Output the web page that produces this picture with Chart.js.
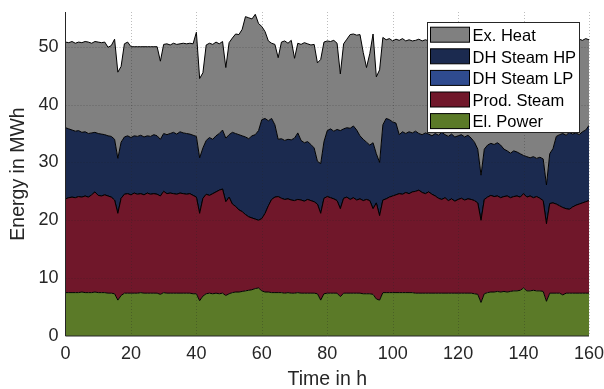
<!DOCTYPE html>
<html>
<head>
<meta charset="utf-8">
<script src="https://cdn.jsdelivr.net/npm/chart.js@4.4.1/dist/chart.umd.min.js"></script>
<style>
  body { margin: 0; background: #fff; }
  #wrap { width: 604px; height: 389px; }
</style>
</head>
<body>
<div id="wrap"><canvas id="energy-chart"></canvas></div>
<script>
// time axis, one sample per hour
const hours = Array.from({ length: 161 }, (_, i) => i);

// values (MWh per hour), index = hour
const elPower = [
  7.5, 7.5, 7.5, 7.5, 7.5, 7.6, 7.5, 7.5, 7.5, 7.6,
  7.5, 7.5, 7.5, 7.4, 7.4, 7.3, 6.2, 7.0, 7.4, 7.4,
  7.4, 7.4, 7.4, 7.5, 7.4, 7.4, 7.4, 7.4, 7.4, 7.2,
  7.5, 7.4, 7.4, 7.4, 7.4, 7.4, 7.4, 7.4, 7.4, 7.3,
  7.3, 6.1, 6.9, 7.3, 7.4, 7.3, 7.4, 7.3, 7.4, 7.0,
  7.3, 7.5, 7.6, 7.6, 7.7, 7.8, 7.9, 8.0, 8.2, 8.3,
  7.8, 7.6, 7.6, 7.5, 7.5, 7.5, 7.5, 7.4, 7.5, 7.4,
  7.4, 7.5, 7.4, 7.4, 7.4, 7.4, 7.4, 7.3, 6.2, 7.3,
  7.4, 7.4, 7.4, 7.4, 6.8, 7.4, 7.4, 7.4, 7.4, 7.4,
  7.4, 7.3, 7.3, 7.3, 7.2, 6.4, 6.2, 7.5, 7.5, 7.5,
  7.5, 7.5, 7.5, 7.5, 7.5, 7.5, 7.5, 7.4, 7.4, 7.4,
  7.4, 7.4, 7.4, 7.4, 7.4, 7.4, 7.4, 7.4, 7.4, 7.4,
  7.4, 7.4, 7.4, 7.4, 7.4, 7.3, 7.2, 5.8, 7.3, 7.5,
  7.6, 7.6, 7.7, 7.6, 7.7, 7.6, 7.7, 7.8, 7.8, 7.9,
  8.3, 7.8, 7.8, 7.9, 7.8, 7.8, 7.7, 6.0, 7.4, 7.4,
  7.4, 7.4, 7.1, 7.4, 7.4, 7.4, 7.4, 7.4, 7.4, 7.4,
  7.4
];

const prodSteam = [
  16.2, 16.4, 16.5, 16.4, 16.6, 16.4, 16.7, 16.5, 16.9, 17.3,
  16.8, 16.7, 16.9, 16.8, 16.6, 16.2, 15.0, 16.8, 17.1, 17.2,
  17.0, 17.3, 17.1, 17.1, 17.0, 17.3, 17.1, 17.2, 17.1, 17.0,
  17.5, 17.2, 17.3, 17.2, 17.1, 17.3, 17.2, 17.1, 17.2, 17.0,
  16.7, 15.1, 16.9, 17.2, 16.9, 17.3, 17.5, 17.9, 18.0, 16.2,
  16.7, 15.3, 14.8, 14.2, 13.8, 13.2, 12.7, 12.4, 12.0, 11.7,
  12.5, 13.6, 14.9, 16.1, 16.5, 16.6, 16.3, 16.2, 16.2, 16.1,
  16.0, 16.1, 16.1, 15.9, 16.2, 16.0, 15.8, 15.5, 15.0, 16.5,
  16.7, 16.5, 16.3, 16.0, 15.2, 16.4, 16.6, 16.2, 16.5, 16.1,
  16.3, 16.1, 16.3, 16.1, 14.8, 16.6, 14.6, 16.0, 16.2, 16.5,
  16.7, 16.9, 17.1, 17.0, 17.3, 17.1, 17.4, 17.6, 17.8, 17.4,
  17.2, 17.5, 17.1, 16.8, 16.4, 16.2, 16.5, 16.0, 16.3, 15.9,
  16.2, 16.4, 16.1, 16.3, 16.2, 16.1, 15.8, 14.2, 16.3, 16.5,
  16.7, 16.5, 16.5, 16.3, 16.4, 16.6, 16.2, 16.3, 16.4, 16.1,
  16.3, 16.2, 16.4, 16.0, 16.3, 16.0, 15.7, 13.4, 15.5, 15.6,
  15.4, 15.1, 15.1, 14.6, 14.5, 14.9, 15.2, 15.4, 15.6, 15.8,
  16.0
];

// no visible LP band anywhere in the figure
const dhSteamLP = [
  0, 0, 0, 0, 0, 0, 0, 0, 0, 0, 0, 0, 0, 0, 0, 0, 0, 0, 0, 0,
  0, 0, 0, 0, 0, 0, 0, 0, 0, 0, 0, 0, 0, 0, 0, 0, 0, 0, 0, 0,
  0, 0, 0, 0, 0, 0, 0, 0, 0, 0, 0, 0, 0, 0, 0, 0, 0, 0, 0, 0,
  0, 0, 0, 0, 0, 0, 0, 0, 0, 0, 0, 0, 0, 0, 0, 0, 0, 0, 0, 0,
  0, 0, 0, 0, 0, 0, 0, 0, 0, 0, 0, 0, 0, 0, 0, 0, 0, 0, 0, 0,
  0, 0, 0, 0, 0, 0, 0, 0, 0, 0, 0, 0, 0, 0, 0, 0, 0, 0, 0, 0,
  0, 0, 0, 0, 0, 0, 0, 0, 0, 0, 0, 0, 0, 0, 0, 0, 0, 0, 0, 0,
  0, 0, 0, 0, 0, 0, 0, 0, 0, 0, 0, 0, 0, 0, 0, 0, 0, 0, 0, 0,
  0
];

const dhSteamHP = [
  12.3, 11.9, 11.6, 11.5, 11.4, 11.2, 11.1, 11.0, 10.7, 10.3,
  10.7, 10.7, 10.4, 10.4, 10.5, 10.5, 9.5, 9.7, 9.9, 10.0,
  9.9, 9.9, 10.0, 10.1, 10.0, 9.9, 10.0, 10.2, 10.1, 9.8,
  10.0, 10.2, 10.3, 10.6, 10.4, 10.6, 10.5, 10.5, 10.3, 10.4,
  10.5, 9.6, 8.7, 9.3, 10.0, 9.4, 9.7, 9.8, 10.2, 11.0,
  10.8, 12.4, 12.6, 13.0, 13.1, 13.4, 13.5, 14.2, 14.6, 15.5,
  17.1, 16.4, 14.7, 14.0, 12.5, 9.9, 10.3, 10.2, 10.3, 10.4,
  10.8, 11.5, 10.3, 10.1, 10.0, 9.7, 9.3, 7.4, 8.6, 9.8,
  11.4, 11.9, 11.7, 12.3, 13.5, 12.0, 12.0, 12.3, 12.4, 12.1,
  10.9, 10.6, 9.9, 9.6, 11.4, 8.5, 9.2, 13.0, 13.9, 13.4,
  12.8, 12.4, 10.2, 10.8, 10.2, 10.7, 10.2, 10.4, 9.8, 10.0,
  10.5, 10.0, 10.1, 10.8, 10.9, 11.6, 10.9, 11.1, 11.2, 11.1,
  11.0, 11.0, 10.9, 11.0, 10.6, 10.1, 9.3, 7.8, 8.7, 9.0,
  9.0, 9.0, 9.2, 9.1, 8.2, 7.8, 7.7, 7.9, 7.6, 7.5,
  6.6, 7.0, 6.6, 7.1, 6.6, 7.1, 7.2, 6.7, 8.6, 9.4,
  11.7, 12.3, 12.8, 12.7, 13.3, 12.6, 12.5, 12.0, 12.3, 12.4,
  13.0
];

const exHeat = [
  14.8, 14.9, 15.3, 15.2, 15.3, 15.5, 15.6, 15.8, 15.5, 15.7,
  15.8, 15.8, 16.0, 15.3, 15.7, 17.3, 14.9, 13.1, 16.1, 16.2,
  15.7, 15.4, 15.5, 15.3, 15.6, 15.4, 15.5, 15.2, 15.4, 13.5,
  15.4, 15.7, 15.3, 15.4, 15.5, 15.2, 15.5, 15.5, 15.7, 15.8,
  18.0, 13.7, 13.0, 16.5, 16.3, 16.4, 16.2, 15.5, 15.3, 12.2,
  15.9, 16.3, 17.2, 17.3, 18.4, 20.8, 20.9, 20.2, 20.8, 18.5,
  16.1, 15.0, 13.8, 13.0, 13.9, 14.1, 16.7, 17.2, 16.6, 17.2,
  13.8, 15.5, 16.6, 17.3, 16.9, 17.2, 17.9, 17.0, 18.0, 17.2,
  15.5, 15.1, 15.7, 14.9, 9.8, 14.7, 15.3, 16.2, 15.9, 16.4,
  17.5, 15.0, 12.9, 15.8, 18.8, 13.3, 16.0, 15.1, 13.6, 14.0,
  14.0, 14.5, 16.3, 16.1, 16.0, 15.9, 15.9, 15.7, 16.3, 16.2,
  16.1, 16.1, 16.6, 16.1, 16.3, 16.0, 16.2, 16.6, 16.4, 16.6,
  16.6, 16.2, 16.7, 16.6, 16.8, 17.7, 18.7, 22.8, 18.8, 18.2,
  17.7, 18.2, 17.7, 18.2, 18.7, 19.3, 19.5, 19.2, 19.2, 19.8,
  19.9, 20.2, 20.2, 20.3, 20.4, 20.3, 20.4, 25.0, 19.8, 18.6,
  16.7, 16.3, 16.0, 16.6, 15.9, 16.3, 15.9, 16.5, 15.8, 15.8,
  14.8
];

const seriesNames = ['El. Power', 'Prod. Steam', 'DH Steam LP', 'DH Steam HP', 'Ex. Heat'];
const seriesColors = ['#5b7a28', '#70172a', '#2f4b8f', '#1b2a4f', '#808080'];
const seriesData = [elPower, prodSteam, dhSteamLP, dhSteamHP, exHeat];

const FONT = '"Liberation Sans", Arial, Helvetica, sans-serif';
const INK = '#262626';

// grid (dotted) and axis lines drawn over the areas, like the matlab figure
const topGrid = {
  id: 'topGrid',
  afterDatasetsDraw(chart) {
    const { ctx, chartArea: a, scales: { x, y } } = chart;
    ctx.save();
    ctx.strokeStyle = 'rgba(38,38,38,0.3)';
    ctx.lineWidth = 1;
    ctx.setLineDash([1, 2]);
    x.ticks.forEach(t => {
      if (t.value === 0) return;
      const px = Math.round(x.getPixelForValue(t.value)) + 0.5;
      ctx.beginPath(); ctx.moveTo(px, a.top); ctx.lineTo(px, a.bottom); ctx.stroke();
    });
    y.ticks.forEach(t => {
      if (t.value === 0) return;
      const py = Math.round(y.getPixelForValue(t.value)) + 0.5;
      ctx.beginPath(); ctx.moveTo(a.left, py); ctx.lineTo(a.right, py); ctx.stroke();
    });
    ctx.setLineDash([]);
    ctx.strokeStyle = INK;
    ctx.beginPath();
    ctx.moveTo(a.left, a.top); ctx.lineTo(a.left, a.bottom); ctx.lineTo(a.right, a.bottom);
    ctx.stroke();
    ctx.restore();
  }
};

// legend box inside the plot, top right
const legendBox = {
  id: 'legendBox',
  afterDraw(chart) {
    const ctx = chart.ctx;
    const items = chart.data.datasets.slice().reverse();
    ctx.save();
    ctx.fillStyle = '#fff';
    ctx.fillRect(427, 22, 152, 110);
    ctx.strokeStyle = INK;
    ctx.lineWidth = 1;
    ctx.strokeRect(427.5, 22.5, 152, 110);
    ctx.font = '16.5px ' + FONT;
    ctx.textBaseline = 'alphabetic';
    items.forEach((ds, i) => {
      const cy = 34.7 + i * 21.6;
      ctx.fillStyle = ds.backgroundColor;
      ctx.fillRect(430.5, cy - 7.5, 39, 15);
      ctx.strokeStyle = '#000';
      ctx.strokeRect(430.5, cy - 7.5, 39, 15);
      ctx.fillStyle = '#000';
      ctx.fillText(ds.label, 472.5, cy + 6.3);
    });
    ctx.restore();
  }
};

const ctx = document.getElementById('energy-chart');

new Chart(ctx, {
  type: 'line',
  data: {
    labels: hours,
    datasets: seriesData.map((vals, i) => ({
      label: seriesNames[i],
      data: vals,
      backgroundColor: seriesColors[i],
      borderColor: '#000',
      borderWidth: 1,
      pointRadius: 0,
      tension: 0,
      fill: i === 0 ? 'origin' : '-1'
    }))
  },
  options: {
    responsive: true,
    maintainAspectRatio: false,
    animation: false,
    layout: { padding: { top: 12, right: 15, left: 0, bottom: 0 } },
    plugins: {
      legend: { display: false },
      tooltip: { enabled: false }
    },
    scales: {
      x: {
        type: 'linear',
        min: 0,
        max: 160,
        ticks: { stepSize: 20, padding: 7, maxRotation: 0, color: INK, font: { family: FONT, size: 18 } },
        grid: { display: false, drawTicks: false },
        border: { display: false },
        title: { display: true, text: 'Time in h', color: INK, padding: 0, font: { family: FONT, size: 19.5, lineHeight: 1 } },
        afterFit: s => { s.height = 53; s.paddingLeft = 0; s.paddingRight = 0; }
      },
      y: {
        stacked: true,
        min: 0,
        max: 56,
        ticks: { stepSize: 10, includeBounds: false, padding: 7, color: INK, font: { family: FONT, size: 18 } },
        grid: { display: false, drawTicks: false },
        border: { display: false },
        title: { display: true, text: 'Energy in MWh', color: INK, padding: { top: 9 }, font: { family: FONT, size: 19.5, lineHeight: 1 } },
        afterFit: s => { s.width = 65.5; s.paddingTop = 0; s.paddingBottom = 0; }
      }
    }
  },
  plugins: [topGrid, legendBox]
});
</script>
</body>
</html>
